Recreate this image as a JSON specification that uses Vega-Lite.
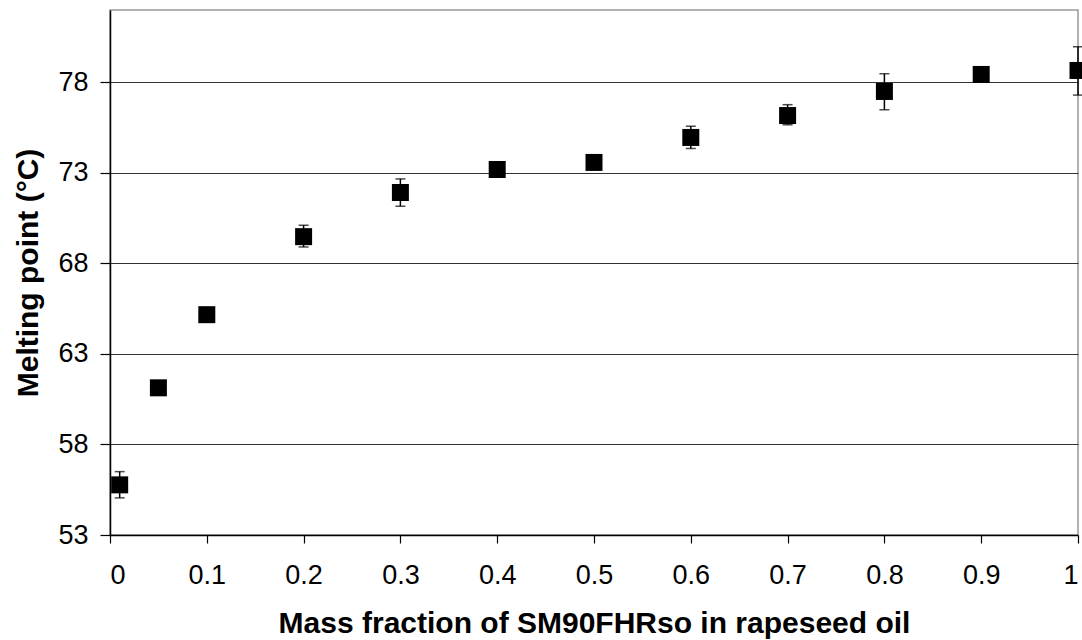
{
  "$schema": "https://vega.github.io/schema/vega-lite/v6.json",
  "autosize": {"type": "none"},
  "padding": {"left": 110, "top": 10, "right": 4, "bottom": 105},
  "width": 968,
  "height": 525,
  "background": "white",
  "config": {
    "font": "Liberation Sans",
    "view": {"stroke": "#999999", "strokeWidth": 1.5},
    "axis": {
      "labelFont": "Liberation Sans",
      "titleFont": "Liberation Sans",
      "labelFontSize": 27,
      "titleFontSize": 30,
      "titleFontWeight": "bold",
      "labelColor": "black",
      "titleColor": "black",
      "domainColor": "black",
      "domainWidth": 1.5,
      "tickColor": "black",
      "tickWidth": 1.2
    }
  },
  "data": {
    "values": [
      {"x": 0.01, "y": 55.77, "lo": 55.05, "hi": 56.5},
      {"x": 0.05, "y": 61.13, "lo": 61.13, "hi": 61.13},
      {"x": 0.1, "y": 65.17, "lo": 65.17, "hi": 65.17},
      {"x": 0.2, "y": 69.48, "lo": 68.91, "hi": 70.11},
      {"x": 0.3, "y": 71.92, "lo": 71.16, "hi": 72.67},
      {"x": 0.4, "y": 73.19, "lo": 73.19, "hi": 73.19},
      {"x": 0.5, "y": 73.58, "lo": 73.58, "hi": 73.58},
      {"x": 0.6, "y": 74.96, "lo": 74.35, "hi": 75.58},
      {"x": 0.7, "y": 76.17, "lo": 75.66, "hi": 76.77},
      {"x": 0.8, "y": 77.5, "lo": 76.49, "hi": 78.48},
      {"x": 0.9, "y": 78.44, "lo": 78.04, "hi": 78.84},
      {"x": 1.0, "y": 78.66, "lo": 77.3, "hi": 79.97}
    ]
  },
  "encoding": {
    "x": {
      "field": "x",
      "type": "quantitative",
      "scale": {"domain": [0, 1], "nice": false, "zero": false},
      "axis": {
        "values": [0, 0.1, 0.2, 0.3, 0.4, 0.5, 0.6, 0.7, 0.8, 0.9, 1],
        "format": "~g",
        "grid": false,
        "tickSize": 8,
        "labelPadding": 19,
        "title": "Mass fraction of SM90FHRso in rapeseed oil",
        "titlePadding": 20
      }
    }
  },
  "layer": [
    {
      "mark": {"type": "rule", "color": "black", "strokeWidth": 1.5},
      "encoding": {
        "y": {
          "field": "lo",
          "type": "quantitative",
          "scale": {"domain": [53, 82], "nice": false, "zero": false},
          "axis": {
            "values": [53, 58, 63, 68, 73, 78],
            "grid": true,
            "gridColor": "#333333",
            "gridWidth": 1.2,
            "gridOpacity": 1,
            "tickSize": 10,
            "labelPadding": 12,
            "title": "Melting point (°C)",
            "titlePadding": 14
          }
        },
        "y2": {"field": "hi"}
      }
    },
    {
      "mark": {"type": "tick", "orient": "horizontal", "color": "black", "size": 10, "thickness": 1.5},
      "encoding": {"y": {"field": "lo", "type": "quantitative"}}
    },
    {
      "mark": {"type": "tick", "orient": "horizontal", "color": "black", "size": 10, "thickness": 1.5},
      "encoding": {"y": {"field": "hi", "type": "quantitative"}}
    },
    {
      "mark": {"type": "point", "shape": "square", "filled": true, "color": "black", "opacity": 1, "size": 289, "clip": false},
      "encoding": {"y": {"field": "y", "type": "quantitative"}}
    }
  ]
}
